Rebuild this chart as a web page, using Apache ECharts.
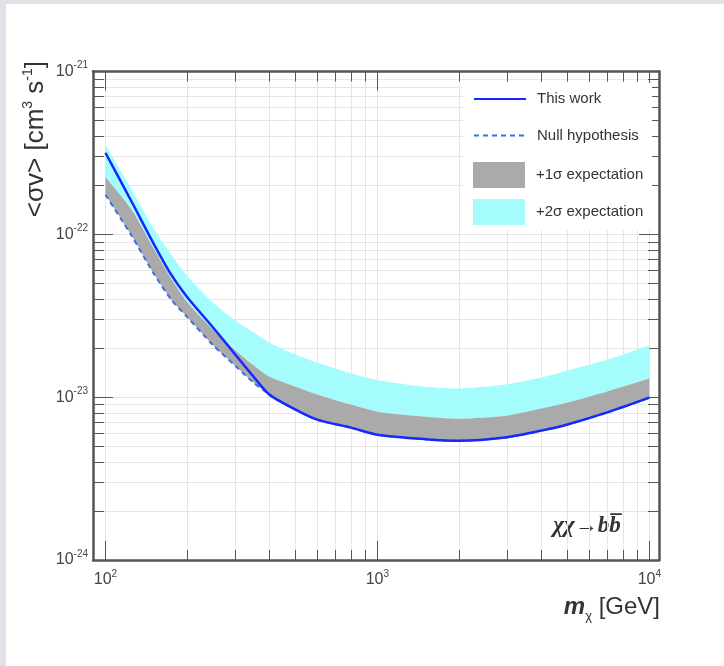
<!DOCTYPE html>
<html><head><meta charset="utf-8">
<script src="https://cdn.jsdelivr.net/npm/echarts@6/dist/echarts.min.js"></script>
<style>html,body{margin:0;padding:0;background:#fff}#c{width:724px;height:666px}</style>
</head><body><div id="c"></div>
<script>
// ---- data (cm^3 s^-1, GeV) ----
const mass = [100,125,150,175,200,250,300,350,400,500,600,800,1000,1500,2000,3000,4000,5000,7000,10000];
const thisWork = [3.17e-22,1.58e-22,8.84e-23,5.61e-23,4.11e-23,2.65e-23,1.83e-23,1.34e-23,1.04e-23,8.39e-24,7.28e-24,6.50e-24,5.88e-24,5.52e-24,5.40e-24,5.68e-24,6.23e-24,6.80e-24,8.06e-24,9.94e-24];
const nullHyp = [1.75e-22,9.76e-23,5.80e-23,3.95e-23,3.10e-23,2.07e-23,1.56e-23,1.23e-23,1.04e-23,8.39e-24,7.28e-24,6.50e-24,5.88e-24,5.52e-24,5.40e-24,5.68e-24,6.23e-24,6.80e-24,8.06e-24,9.94e-24];
const sigma1 = [2.25e-22,1.41e-22,8.23e-23,5.30e-23,3.83e-23,2.57e-23,1.94e-23,1.57e-23,1.34e-23,1.16e-23,1.04e-23,9.00e-24,8.15e-24,7.59e-24,7.38e-24,7.70e-24,8.51e-24,9.26e-24,1.083e-23,1.30e-23];
const sigma2 = [3.55e-22,1.87e-22,1.09e-22,7.46e-23,5.53e-23,3.77e-23,2.96e-23,2.50e-23,2.17e-23,1.83e-23,1.63e-23,1.40e-23,1.27e-23,1.16e-23,1.13e-23,1.20e-23,1.32e-23,1.46e-23,1.70e-23,2.08e-23];
const xMajor = [100,1000,10000];
const xMinor = [200,300,400,500,600,700,800,900,2000,3000,4000,5000,6000,7000,8000,9000];
const yMajor = [1e-24,1e-23,1e-22,1e-21];
const yMinor = [2e-24,3e-24,4e-24,5e-24,6e-24,7e-24,8e-24,9e-24,2e-23,3e-23,4e-23,5e-23,6e-23,7e-23,8e-23,9e-23,2e-22,3e-22,4e-22,5e-22,6e-22,7e-22,8e-22,9e-22];
const legendNames = ['This work','Null hypothesis','+1σ expectation','+2σ expectation'];

// ECharts rounds very small numbers on a log axis, so the y axis works in units of 1e-24 cm^3 s^-1
const Y_UNIT_EXP = -24;
const toUnit = v => Math.round(v / Math.pow(10, Y_UNIT_EXP) * 1e6) / 1e6;

const FONT = 'Liberation Sans, Arial, Helvetica, sans-serif';
const frameColor = '#555';
const gridColor = '#e6e6e6';
const labelColor = '#444';

const xLabel = v => '{b|10}{s|' + Math.round(Math.log10(v)) + '}';
const yLabel = v => '{b|10}{s|' + (Math.round(Math.log10(v)) + Y_UNIT_EXP) + '}';
const labelRich = {
  b:{fontSize:16, color:labelColor, fontFamily:FONT, lineHeight:22},
  s:{fontSize:10, color:labelColor, fontFamily:FONT, verticalAlign:'top', lineHeight:14}
};

function band(lower, upper){
  return function(params, api){
    if (params.dataIndex !== 0) return;
    const n = mass.length;
    const up = [], lo = [];
    for (let i = 0; i < n; i++) up.push(api.coord([mass[i], toUnit(upper[i])]));
    for (let i = n - 1; i >= 0; i--) lo.push(api.coord([mass[i], toUnit(lower[i])]));
    // corners repeated so the smoothing keeps the ends of the band straight
    const pts = [up[0]].concat(up, [up[n-1]], [lo[0]], lo, [lo[n-1]]);
    return {type:'polygon', shape:{points:pts, smooth:0.25}, style:{fill:api.visual('color')}};
  };
}

function xAxisDef(pos, major, withLine, withLabel, withSplit){
  return {
    type:'log', logBase:10, position:pos, min:90, max:10850, gridIndex:0,
    axisLine:{show:withLine, onZero:false, lineStyle:{color:frameColor, width:2.5}},
    axisTick:{show:true, inside:true, length: major ? 19 : 10, customValues: major ? xMajor : xMinor,
              lineStyle:{color:frameColor, width:1}},
    axisLabel:{show:withLabel, customValues:xMajor, formatter:xLabel, rich:labelRich, margin:9},
    splitLine:{show:withSplit, lineStyle:{color:gridColor, width:1}},
    minorTick:{show:false}, minorSplitLine:{show:false}
  };
}
function yAxisDef(pos, major, withLine, withLabel, withSplit){
  return {
    type:'log', logBase:10, position:pos, min:toUnit(yMajor[0]), max:toUnit(yMajor[3]), gridIndex:0,
    axisLine:{show:withLine, onZero:false, lineStyle:{color:frameColor, width:2.5}},
    axisTick:{show:true, inside:true, length: major ? 20 : 11,
              customValues:(major ? yMajor : yMinor).map(toUnit),
              lineStyle:{color:frameColor, width:1}},
    axisLabel:{show:withLabel, customValues:yMajor.map(toUnit), formatter:yLabel, rich:labelRich, margin:5},
    splitLine:{show:withSplit, lineStyle:{color:gridColor, width:1}},
    minorTick:{show:false}, minorSplitLine:{show:false}
  };
}

const legendCenters = [101.7, 138, 175, 212];
const legends = legendNames.map((nm, i) => ({
  orient:'vertical', left:473, top:legendCenters[i] - 13,
  padding:0, itemWidth:52, itemHeight:26, selectedMode:false,
  textStyle:{fontSize:15, color:'#333', fontFamily:FONT, padding:[0,0,0,6]},
  data:[ i < 2 ? {name:nm, itemStyle:{opacity:0}} : {name:nm, icon:'rect'} ]
}));

const chart = echarts.init(document.getElementById('c'), null, {renderer:'canvas'});
chart.setOption({
  animation:false,
  backgroundColor:'#fff',
  grid:{left:93, right:65, top:71.5, bottom:106, containLabel:false},
  xAxis:[
    xAxisDef('bottom', true, true, true, true),
    xAxisDef('bottom', false, false, false, true),
    xAxisDef('top', true, true, false, false),
    xAxisDef('top', false, false, false, false)
  ],
  yAxis:[
    yAxisDef('left', true, true, true, true),
    yAxisDef('left', false, false, false, true),
    yAxisDef('right', true, true, false, false),
    yAxisDef('right', false, false, false, false)
  ],
  legend:legends,
  graphic:[
    {type:'rect', z:1, shape:{x:463, y:83, width:189, height:147}, style:{fill:'#fff'}, silent:true},
    {type:'rect', shape:{x:0,y:0,width:6,height:666}, style:{fill:'#dfe3e8'}, silent:true},
    {type:'rect', shape:{x:0,y:0,width:724,height:4}, style:{fill:'#dfe3e8'}, silent:true},
    {type:'text', x:660, y:607, silent:true,
     style:{text:'{m|m}{sub|χ}{r| [GeV]}', align:'right', verticalAlign:'middle',
       rich:{
         m:{fontSize:24, fontFamily:FONT, fontStyle:'italic', fontWeight:'bold', fill:'#333'},
         sub:{fontSize:13, fontFamily:FONT, fill:'#333', verticalAlign:'bottom', lineHeight:32},
         r:{fontSize:24, fontFamily:FONT, fill:'#333'}
       }}},
    {type:'text', x:36, y:61, rotation:Math.PI/2, silent:true,
     style:{text:'{t|<σv> [cm}{s|3}{t| s}{s|-1}{t|]}', align:'right', verticalAlign:'middle',
       rich:{
         t:{fontSize:26, fontFamily:FONT, fill:'#333', lineHeight:30},
         s:{fontSize:14, fontFamily:FONT, fill:'#333', verticalAlign:'top', lineHeight:16}
       }}},
    {type:'text', x:587, y:526, silent:true,
     style:{text:'χχ→bb\u0305', align:'center', verticalAlign:'middle',
       font:'italic bold 23px "Liberation Serif", "DejaVu Serif", serif', fill:'#333'}}
  ],
  series:[
    {type:'custom', name:legendNames[3], xAxisIndex:0, yAxisIndex:0, silent:true, z:2,
     renderItem:band(sigma1, sigma2), data:[[mass[0], toUnit(sigma2[0])]], itemStyle:{color:'#a4fcfc'}},
    {type:'custom', name:legendNames[2], xAxisIndex:0, yAxisIndex:0, silent:true, z:3,
     renderItem:band(nullHyp, sigma1), data:[[mass[0], toUnit(sigma1[0])]], itemStyle:{color:'#aaaaaa'}},
    {type:'line', name:legendNames[1], xAxisIndex:0, yAxisIndex:0, z:4, symbol:'none', silent:true,
     smooth:0.25, data:mass.map((m,i)=>[m, toUnit(nullHyp[i])]),
     lineStyle:{color:'#3f6fe0', width:2, type:[5,4]}, itemStyle:{color:'#3f6fe0'}},
    {type:'line', name:legendNames[0], xAxisIndex:0, yAxisIndex:0, z:5, symbol:'none', silent:true,
     smooth:0.25, data:mass.map((m,i)=>[m, toUnit(thisWork[i])]),
     lineStyle:{color:'#1428ff', width:2.5}, itemStyle:{color:'#1428ff'}}
  ]
});
</script></body></html>
